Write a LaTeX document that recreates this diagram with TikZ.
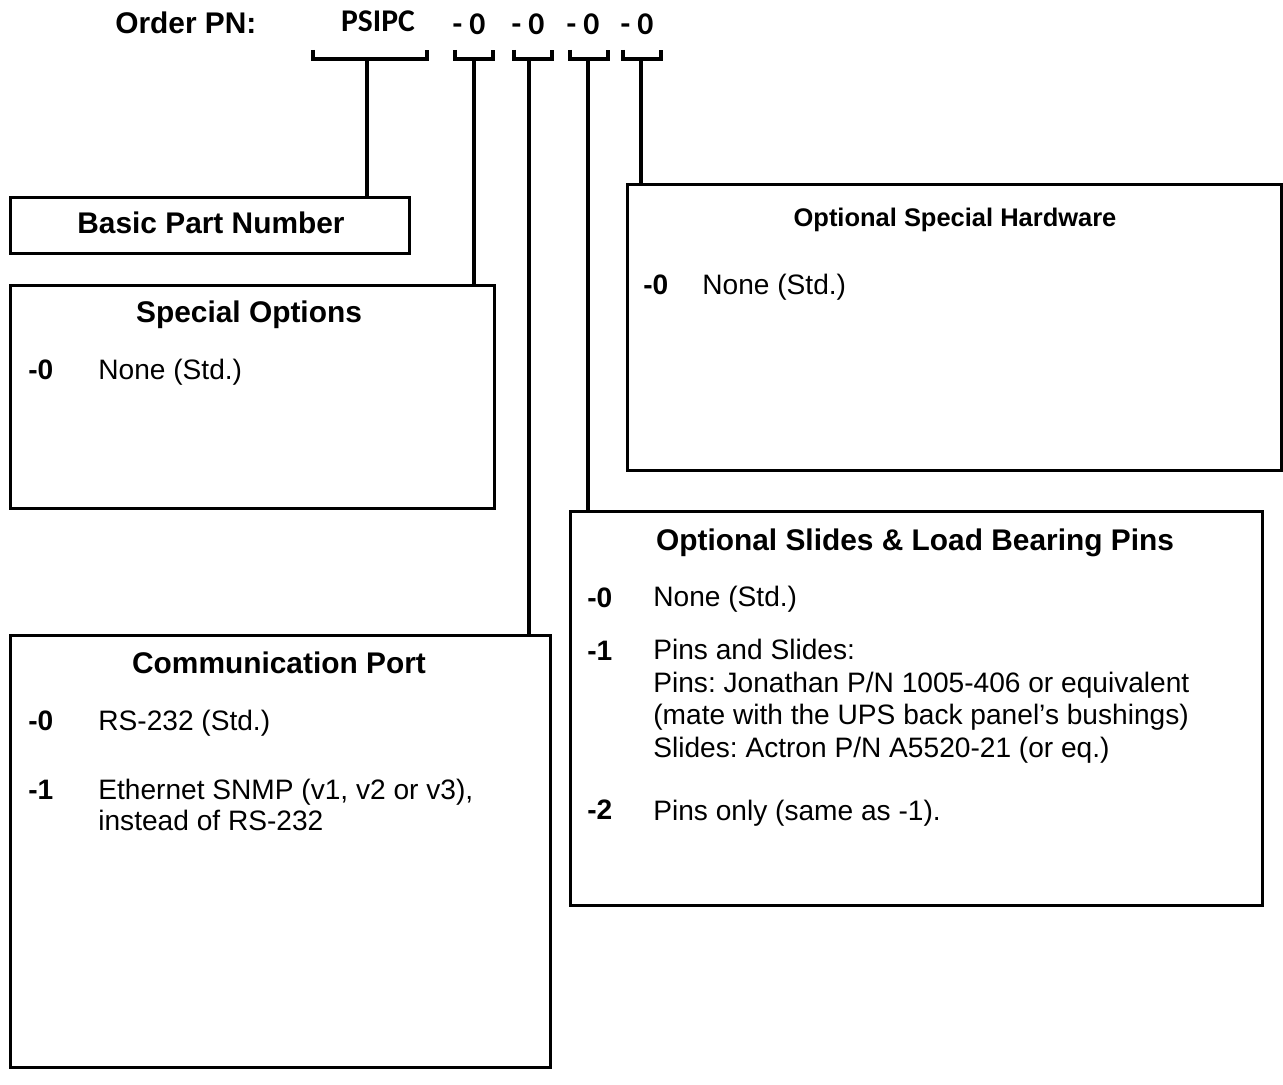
\documentclass[tikz,border=0pt]{standalone}
\usepackage{fontspec}
\setmainfont{Liberation Sans}
\newfontfamily\calibri{Carlito}
\usetikzlibrary{positioning}
\frenchspacing

\begin{document}
\begin{tikzpicture}[x=0.02cm, y=-0.02cm,
  line/.style={draw=black, line width=1.8pt},
  box/.style={rectangle, draw=black, line width=1.8pt, anchor=north west, inner sep=0},
  head/.style={inner sep=0, anchor=base, node font=\bfseries\fontsize{17}{20}\selectfont},
  code/.style={inner sep=0, anchor=base west, node font=\bfseries\fontsize{16}{18}\selectfont},
  item/.style={inner sep=0, anchor=base west, align=left, node font=\fontsize{16}{18.5}\selectfont},
  pn/.style={inner sep=0, anchor=base, node font=\calibri\bfseries\fontsize{18}{20}\selectfont}]

  \useasboundingbox (0,0) rectangle (1283,1084);

  % order number
  \node[inner sep=0, anchor=base west, node font=\bfseries\fontsize{17}{20}\selectfont] (orderPN) at (115,34) {Order PN:};
  \node[pn] (pnBasic)    at (378,32) {PSIPC};
  \node[pn] (pnSpecial)  at (469,35) {- 0};
  \node[pn] (pnComm)     at (528,35) {- 0};
  \node[pn] (pnSlides)   at (583,35) {- 0};
  \node[pn] (pnHardware) at (637,35) {- 0};

  % boxes
  \node[box, minimum width=7.98cm, minimum height=1.12cm]  (boxBasic)    at (9,196)   {};
  \node[box, minimum width=9.68cm, minimum height=4.46cm]  (boxSpecial)  at (9,284)   {};
  \node[box, minimum width=10.8cm, minimum height=8.64cm]  (boxComm)     at (9,634)   {};
  \node[box, minimum width=13.84cm, minimum height=7.88cm] (boxSlides)   at (569,510) {};
  \node[box, minimum width=13.08cm, minimum height=5.72cm] (boxHardware) at (626,183) {};

  % brackets
  \draw[line] (313,50) |- (427,59) -- (427,50);
  \draw[line] (455,50) |- (493,59) -- (493,50);
  \draw[line] (514,50) |- (552,59) -- (552,50);
  \draw[line] (570,50) |- (608,59) -- (608,50);
  \draw[line] (623,50) |- (661,59) -- (661,50);

  \coordinate (stemBasic)    at (367,59);
  \coordinate (stemSpecial)  at (474,59);
  \coordinate (stemComm)     at (529,59);
  \coordinate (stemSlides)   at (588,59);
  \coordinate (stemHardware) at (641,59);

  \draw[line] (stemBasic)    -- (stemBasic |- boxBasic.north);
  \draw[line] (stemSpecial)  -- (stemSpecial |- boxSpecial.north);
  \draw[line] (stemComm)     -- (stemComm |- boxComm.north);
  \draw[line] (stemSlides)   -- (stemSlides |- boxSlides.north);
  \draw[line] (stemHardware) -- (stemHardware |- boxHardware.north);

  % basic part number
  \node[head] (titleBasic) at (211,234) {Basic Part Number};

  % special options
  \node[head] (titleSpecial) at (249,322) {Special Options};
  \node[code] (codeSpecial0) at (28,379) {-0};
  \node[item] (itemSpecial0) at (98,379) {None (Std.)};

  % optional special hardware
  \node[head, node font=\bfseries\fontsize{14.5}{17}\selectfont] (titleHardware) at (955,227) {Optional Special Hardware};
  \node[code] (codeHardware0) at (643,295) {-0};
  \node[item] (itemHardware0) at (702,295) {None (Std.)};

  % optional slides (multi-line nodes sit on their last baseline)
  \node[head] (titleSlides) at (915,550) {Optional Slides \& Load Bearing Pins};
  \node[code] (codeSlides0) at (587,607) {-0};
  \node[item] (itemSlides0) at (653,606) {None (Std.)};
  \node[code] (codeSlides1) at (587,660) {-1};
  \node[item] (itemSlides1) at (653,757) {Pins and Slides:\\Pins: Jonathan P/N 1005-406 or equivalent\\(mate with the UPS back panel’s bushings)\\Slides: Actron P/N A5520-21 (or eq.)};
  \node[code] (codeSlides2) at (587,819) {-2};
  \node[item] (itemSlides2) at (653,820) {Pins only (same as -1).};

  % communication port
  \node[head] (titleComm) at (279,673) {Communication Port};
  \node[code] (codeComm0) at (28,730) {-0};
  \node[item] (itemComm0) at (98,730) {RS-232 (Std.)};
  \node[code] (codeComm1) at (28,799) {-1};
  \node[item, node font=\fontsize{16}{17.6}\selectfont] (itemComm1) at (98,830) {Ethernet SNMP (v1, v2 or v3),\\instead of RS-232};
\end{tikzpicture}
\end{document}
